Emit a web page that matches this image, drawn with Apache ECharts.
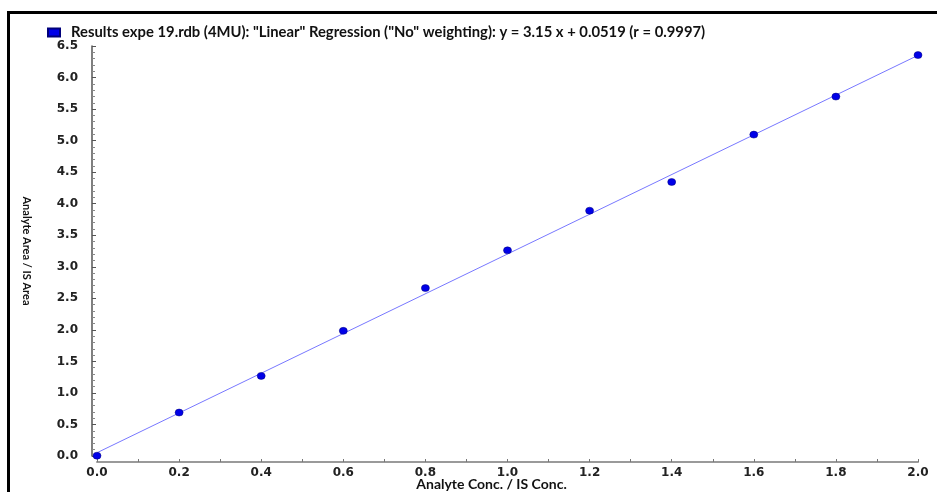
<!DOCTYPE html>
<html>
<head>
<meta charset="utf-8">
<script src="https://cdn.jsdelivr.net/npm/echarts@6/dist/echarts.min.js"></script>
<style>
html,body{margin:0;padding:0;background:#fff;}
#chart{width:937px;height:492px;}
#frame{position:absolute;left:7px;top:11px;width:930px;height:481px;border-top:3px solid #000;border-left:3px solid #000;box-sizing:border-box;pointer-events:none;}
</style>
</head>
<body>
<div id="chart"></div>
<div id="frame"></div>
<script>
// Data
const seriesName = 'Results expe 19.rdb (4MU): "Linear" Regression ("No" weighting): y = 3.15 x + 0.0519 (r = 0.9997)';
const concX = [0.0, 0.2, 0.4, 0.6, 0.8, 1.0, 1.2, 1.4, 1.6, 1.8, 2.0];
const areaY = [0.005, 0.689, 1.270, 1.984, 2.662, 3.260, 3.889, 4.344, 5.095, 5.698, 6.356];
// Regression line endpoints (y = 3.15 x + 0.0519)
const regX = [0.0, 2.0];
const regY = [0.0519, 6.3519];
const xTitle = 'Analyte Conc. / IS Conc.';
const yTitle = 'Analyte Area / IS Area';

const chart = echarts.init(document.getElementById('chart'));
const labelFont = {fontFamily: 'DejaVu Sans', fontWeight: 'bold', fontSize: 12, color: '#222'};
chart.setOption({
  animation: false,
  backgroundColor: '#fff',
  legend: {
    left: 47, top: 25, padding: 0,
    icon: 'rect', itemWidth: 12, itemHeight: 8, itemGap: 10,
    data: [seriesName],
    textStyle: {fontFamily: 'Lato', fontWeight: 'bold', fontSize: 14.8, color: '#111', padding: [0, 0, 0, 6]}
  },
  grid: {left: 97, right: 19, top: 46, bottom: 36, containLabel: false, outerBoundsMode: 'none'},
  xAxis: {
    type: 'value', min: 0, max: 2.0, interval: 0.2,
    offset: 6,
    axisLine: {show: true, onZero: false, lineStyle: {color: '#9a9a9a', width: 2}},
    axisTick: {show: true, inside: true, length: 3, lineStyle: {color: '#777'}},
    minorTick: {show: true, splitNumber: 2, length: 3, lineStyle: {color: '#777'}},
    splitLine: {show: false},
    axisLabel: Object.assign({margin: 5, formatter: v => v.toFixed(1)}, labelFont),
    name: xTitle, nameLocation: 'middle', nameGap: 15, nameMoveOverlap: false,
    nameTextStyle: {fontFamily: 'Lato', fontWeight: 'bold', fontSize: 14, color: '#111', padding: [0, 32, 0, 0]}
  },
  yAxis: {
    type: 'value', min: 0, max: 6.5, interval: 0.5,
    offset: 5,
    axisLine: {show: true, onZero: false, lineStyle: {color: '#555', width: 1.5}},
    axisTick: {show: true, inside: true, length: 4, lineStyle: {color: '#555'}},
    minorTick: {show: true, splitNumber: 5, length: 3, lineStyle: {color: '#888'}},
    splitLine: {show: false},
    axisLabel: Object.assign({margin: 14, formatter: v => v.toFixed(1)}, labelFont),
    name: yTitle, nameLocation: 'middle', nameRotate: -90, nameGap: 60, nameMoveOverlap: false,
    nameTextStyle: {fontFamily: 'Lato', fontWeight: 'bold', fontSize: 11, color: '#111'}
  },
  series: [
    {
      name: 'regression', type: 'line',
      data: regX.map((x, i) => [x, regY[i]]),
      symbol: 'none', silent: true,
      lineStyle: {color: '#7878ff', width: 1},
      z: 1
    },
    {
      name: seriesName, type: 'scatter',
      data: concX.map((x, i) => [x, areaY[i]]),
      symbol: 'circle', symbolSize: [8, 7],
      itemStyle: {color: '#0000e8', borderColor: '#00007a', borderWidth: 0.5, opacity: 1},
      z: 3
    }
  ]
});
</script>
</body>
</html>
